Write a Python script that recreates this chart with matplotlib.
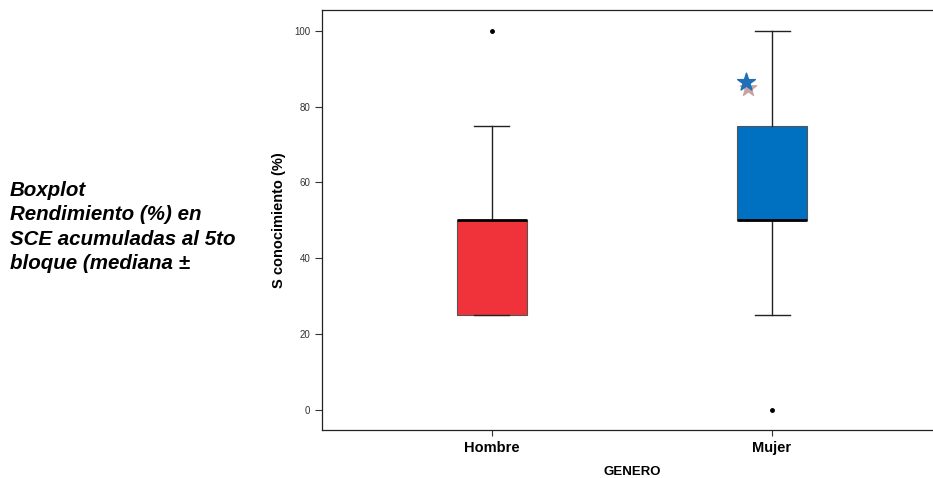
#! -*- coding: utf-8 -*-
import matplotlib
matplotlib.use('Agg')
import matplotlib.pyplot as plt

#---------------------------------
# データ
#---------------------------------
grupos = ['Hombre', 'Mujer']
q1 = [25, 50]
mediana = [50, 50]
q3 = [50, 75]
bigote_inf = [25, 25]
bigote_sup = [75, 100]
atipicos = [[100], [0]]
# valores extremos (estrellas) del grupo Mujer
extremos_mujer = [86.5, 85.0]
colores_caja = ['#F0333B', '#0070C0']
colores_estrella = ['#1F6FB8', '#C9A3A1']

plt.rcParams['font.family'] = ['Liberation Sans', 'DejaVu Sans']

fig = plt.figure(figsize=(9.33, 4.78), dpi=100)
ax = fig.add_axes([322 / 933, 48 / 478, 620 / 933, 420 / 478])

stats = []
for i, g in enumerate(grupos):
	stats.append({'label': g, 'q1': q1[i], 'med': mediana[i], 'q3': q3[i],
				'whislo': bigote_inf[i], 'whishi': bigote_sup[i], 'fliers': atipicos[i]})

pos = [1, 2]
bp = ax.bxp(stats, positions=pos, widths=0.25, patch_artist=True,
			boxprops=dict(edgecolor='#555555', linewidth=0.8),
			medianprops=dict(color='black', linewidth=2.0),
			whiskerprops=dict(color='#222222', linewidth=1.0),
			capprops=dict(color='#222222', linewidth=1.0),
			capwidths=0.125,
			flierprops=dict(marker='o', markersize=2.5, markerfacecolor='black',
							markeredgecolor='black'))
for caja, c in zip(bp['boxes'], colores_caja):
	caja.set_facecolor(c)

# estrellas (extremos)
ax.scatter([2 - 0.085], [extremos_mujer[1]], marker='*', s=150,
			color=colores_estrella[1], zorder=4)
ax.scatter([2 - 0.093], [extremos_mujer[0]], marker='*', s=180,
			color=colores_estrella[0], zorder=5)

ax.set_xlim(0.393, 2.607)
ax.set_ylim(-5.3, 105.5)
ax.set_yticks([0, 20, 40, 60, 80, 100])
ax.set_xticks(pos)
ax.set_xticklabels(grupos, fontsize=10.5, fontweight='bold')
ax.tick_params(axis='y', labelsize=7, labelcolor='#333333', length=5, width=0.8, color='#333333')
ax.tick_params(axis='x', length=4, width=0.8, color='#333333', pad=4)
for s in ax.spines.values():
	s.set_linewidth(0.9)
	s.set_color('#222222')
ax.set_ylabel('S conocimiento (%)', fontsize=10.5, fontweight='bold', labelpad=6)
ax.set_xlabel('GENERO', fontsize=9.5, fontweight='bold', labelpad=8)

fig.text(10 / 933, 1 - 181 / 478,
		'Boxplot\nRendimiento (%) en\nSCE acumuladas al 5to\nbloque (mediana ±',
		fontsize=14.8, fontweight='bold', fontstyle='italic', va='top', ha='left',
		linespacing=1.36)

fig.savefig('out.png', dpi=100)
